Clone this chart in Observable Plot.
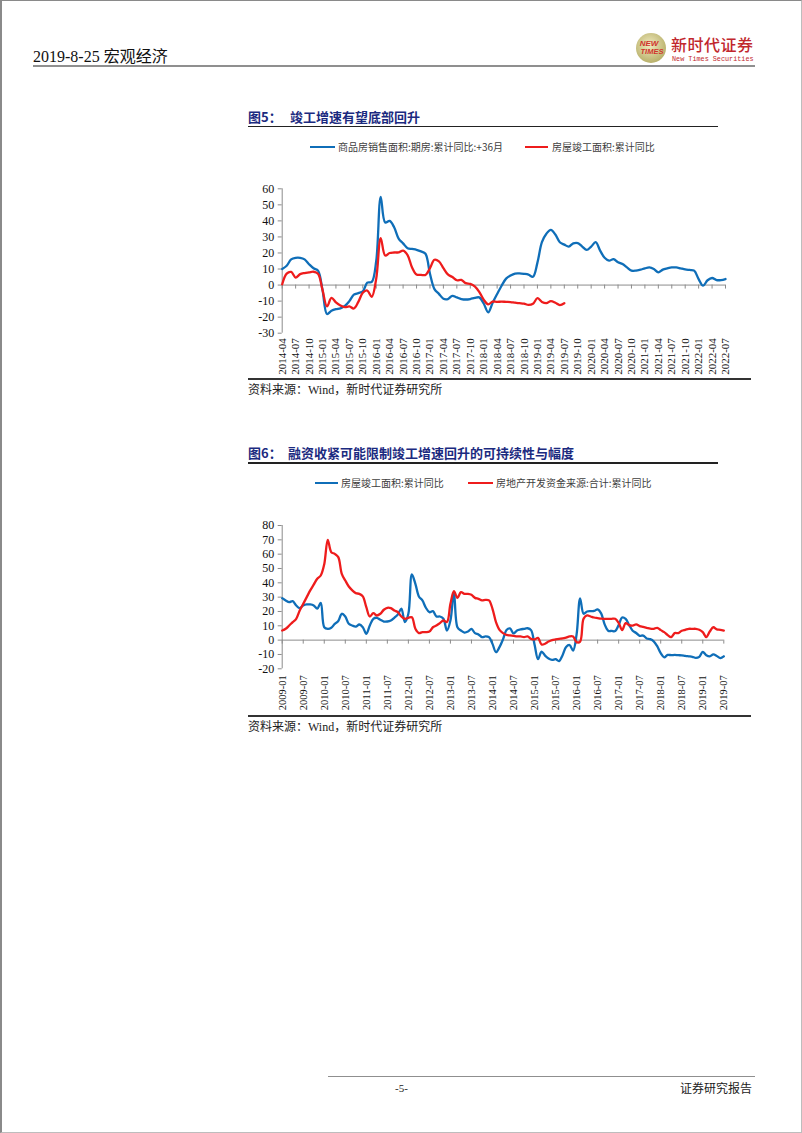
<!DOCTYPE html>
<html><head><meta charset="utf-8">
<script src="https://cdn.jsdelivr.net/npm/d3@7"></script>
<script src="https://cdn.jsdelivr.net/npm/@observablehq/plot@0.6"></script>
<style>
html,body{margin:0;padding:0;background:#fff;}
#page{position:relative;width:802px;height:1133px;overflow:hidden;background:#fff;font-family:'Liberation Serif','Noto Sans CJK SC',serif;color:#000;}
.abs{position:absolute;white-space:nowrap;line-height:1;}
</style></head><body><div id="page"></div>
<script>
// ---------- DATA ----------
// 商品房销售面积:期房:累计同比:+36月 (2014-04 … 2022-07)
const salesStart = [2014, 4];
const salesPlus36 = [
  10, 12, 16, 17, 17, 16, 13, 10.5, 9,
  -3, -18, -16, -15, -14.5, -13, -10, -6, -5, -4, 1.5, 2,
  15, 55, 39, 40, 36, 29, 26, 23, 22.5, 22, 21, 19.5,
  7, -2.5, -5.5, -8.5, -8.7, -6.7, -7.7, -8.7, -9, -8.7, -8, -7.7,
  -11.5, -17, -11, -5.6, -0.4, 4, 6, 7.2, 7.3, 7, 6.5, 5.2,
  14, 26.7, 32, 34.4, 31.5, 26.7, 25.2, 24, 26, 26.2, 24, 21.9,
  24, 26.7, 21.5, 17, 15.2, 16.2, 14.2, 13.1, 11, 9, 9, 9.6,
  10.4, 11, 10, 7.9, 9.6, 10.4, 11, 11, 10.4, 9.8, 9.4, 9,
  3.75, -0.4, 3, 4.4, 3.1, 3.1, 3.75
];
// 房屋竣工面积:累计同比 (2009-01 … 2019-07)
const seriesStart = [2009, 1];
const completion = [
  29.3, 27.7, 26.5, 27.2, 24.2, 22.3, 24.2, 24.9, 24.9, 24.2, 22, 26,
  9, 7.9, 8.6, 11.4, 13.3, 18.4, 16.5, 11.4, 10.2, 9.5, 10.9, 9,
  4.4, 10.2, 14.9, 15.6, 14.2, 13, 13, 13.7, 15.6, 17.9, 22, 12.6,
  18.4, 45.8, 39.3, 30.5, 27.7, 22.6, 19.5, 20.2, 16.5, 16.5, 14.9, 6.7,
  13.7, 33.5, 9, 6.7, 5.3, 6, 7.9, 4.9, 4, 2.1, 2.6, 2.1,
  -2.6, -8.4, -4.9, 0.5, 7.1, 8.2, 4.7, 6.8, 7.5, 7.9, 8.3, 7,
  -3, -13.3, -8, -10.8, -12.8, -13.8, -13.3, -14.6, -10.5, -4.8, -3.4, -7.3,
  4, 29.2, 18.4, 20, 20.3, 20.4, 21.5, 18.7, 11, 6.6, 6.4, 6.3,
  10.5, 15.8, 14.8, 10.5, 6.6, 5, 3, 3.2, 1.2, 0.7, -0.8, -4.2,
  -9.1, -12, -10.3, -10.5, -10.3, -10.5, -10.6, -11, -11.3, -11.6, -12.4, -11.7,
  -8.2, -10.5, -11.3, -10, -11, -12.5, -11.3
];
// 房地产开发资金来源:合计:累计同比 (2009-01 … 2019-07)
const funding = [
  6.7, 7.9, 10.2, 12.6, 14.9, 20.7, 25.3, 30, 34.7, 38.8, 42.8, 45.1,
  53, 70, 61.4, 60.2, 57.9, 46.3, 41.6, 37.4, 34.7, 32.8, 32.3, 30.5,
  23, 16.5, 18.8, 17.2, 18.4, 21.2, 22.6, 22.3, 20.7, 19.5, 16.5, 14.9,
  15.6, 16, 7.9, 4.9, 5.6, 5.6, 6, 9, 10.2, 11.9, 13.7, 12.6,
  25.3, 34.2, 29.5, 33.5, 32.3, 32.3, 31.6, 29.5, 28.8, 27.7, 28.1, 27.7,
  21.9, 12.6, 7.2, 4.9, 3.7, 3.3, 3, 2.6, 2.6, 2.1, 2.6, 0.9,
  0.5, 1.6, -3, -2.5, -1, 0, 0.5, 0.9, 1.2, 1.8, 2.6, 2.5,
  -1.4, -1, 15, 17.2, 16.5, 15.8, 15.4, 15, 14.9, 14.9, 14.9, 14.9,
  12, 7, 11.9, 10.5, 10.2, 11, 9.8, 9.2, 8.6, 8, 7.9, 8.6,
  7, 5.6, 3.5, 2.1, 4.9, 4.9, 6.5, 7.2, 7.9, 7.9, 7.9, 7.2,
  5.6, 2.1, 6, 9, 7.5, 7.2, 6.7
];
const chart1Ticks = ["2014-04","2014-07","2014-10","2015-01","2015-04","2015-07","2015-10","2016-01","2016-04","2016-07","2016-10","2017-01","2017-04","2017-07","2017-10","2018-01","2018-04","2018-07","2018-10","2019-01","2019-04","2019-07","2019-10","2020-01","2020-04","2020-07","2020-10","2021-01","2021-04","2021-07","2021-10","2022-01","2022-04","2022-07"];
const chart2Ticks = ["2009-01","2009-07","2010-01","2010-07","2011-01","2011-07","2012-01","2012-07","2013-01","2013-07","2014-01","2014-07","2015-01","2015-07","2016-01","2016-07","2017-01","2017-07","2018-01","2018-07","2019-01","2019-07"];
const chart1YTicks = [-30, -20, -10, 0, 10, 20, 30, 40, 50, 60];
const chart2YTicks = [-20, -10, 0, 10, 20, 30, 40, 50, 60, 70, 80];
const legend1 = ["商品房销售面积:期房:累计同比:+36月", "房屋竣工面积:累计同比"];
const legend2 = ["房屋竣工面积:累计同比", "房地产开发资金来源:合计:累计同比"];
const BLUE = "#0F6EB8", RED = "#EE1C1C", AXIS = "#8C8C8C";

// ---------- helpers ----------
function monthLabels(start, n) {
  const out = [];
  let [y, m] = start;
  for (let k = 0; k < n; k++) {
    out.push(y + "-" + String(m).padStart(2, "0"));
    m++; if (m > 12) { m = 1; y++; }
  }
  return out;
}
const page = document.getElementById("page");
function el(html, style) {
  const d = document.createElement("div");
  d.className = "abs";
  d.innerHTML = html;
  Object.assign(d.style, style);
  page.appendChild(d);
  return d;
}
function text(t, x, cy, size, extra = {}) {
  return el(t, Object.assign({left: x + "px", top: (cy - size / 2) + "px", fontSize: size + "px"}, extra));
}
function hline(x1, x2, y, w, color) {
  return el("", {left: x1 + "px", top: (y - w / 2) + "px", width: (x2 - x1) + "px", height: w + "px", background: color});
}

// page frame
el("", {left: "0px", top: "0px", width: "799px", height: "1131px", borderLeft: "2px solid #8a8a8a", borderTop: "1px solid #8a8a8a", borderRight: "1px solid #bdbdbd", borderBottom: "1px solid #bdbdbd"});

// ---------- header ----------
text("2019-8-25 宏观经济", 33, 57, 16, {color: "#111"});
hline(33, 755, 66, 1.2, "#8f8f8f");
el(`<svg width="34" height="34" viewBox="0 0 34 34">
  <defs><radialGradient id="lg" cx="45%" cy="40%" r="60%"><stop offset="0" stop-color="#F1EBC0"/><stop offset="1" stop-color="#B8B06A"/></radialGradient></defs>
  <circle cx="17" cy="17" r="15" fill="url(#lg)"/>
  <text x="15" y="15" font-size="8" font-weight="bold" fill="#D0342C" text-anchor="middle" font-family="Liberation Sans" font-style="italic">NEW</text>
  <text x="18" y="23" font-size="7.5" font-weight="bold" fill="#D0342C" text-anchor="middle" font-family="Liberation Sans" font-style="italic">TIMES</text>
</svg>`, {left: "634px", top: "31px"});
text("新时代证券", 671, 44, 16, {color: "#C1272D", fontFamily: "'Noto Sans CJK SC'", fontWeight: "500", letterSpacing: "0.5px"});
text("New Times Securities", 672, 59, 6.8, {color: "#C1272D", fontFamily: "'Liberation Mono'"});

// ---------- figure 5 ----------
const TITLE = "#1B2A80";
text("图5：", 248, 116, 13, {color: TITLE, fontWeight: "bold", fontFamily: "'Noto Sans CJK SC'"});
text("竣工增速有望底部回升", 290, 116, 13, {color: TITLE, fontWeight: "bold", fontFamily: "'Noto Sans CJK SC'"});
hline(248, 718, 126.5, 1.5, "#222");
hline(310, 335, 147, 2.4, BLUE);
text(legend1[0], 338, 147, 10, {color: "#404040", fontFamily: "'Noto Sans CJK SC'"});
hline(525, 548, 147, 2.4, RED);
text(legend1[1], 552, 147, 10, {color: "#404040", fontFamily: "'Noto Sans CJK SC'"});
hline(248, 751, 379, 1.5, "#333");
text("资料来源：Wind，新时代证券研究所", 248, 390, 12, {color: "#222", fontFamily: "'Liberation Serif','Noto Sans CJK SC'"});

// ---------- figure 6 ----------
text("图6：", 248, 452, 13, {color: TITLE, fontWeight: "bold", fontFamily: "'Noto Sans CJK SC'"});
text("融资收紧可能限制竣工增速回升的可持续性与幅度", 288, 452, 13, {color: TITLE, fontWeight: "bold", fontFamily: "'Noto Sans CJK SC'"});
hline(248, 718, 463, 1.5, "#222");
hline(315, 338, 483, 2.4, BLUE);
text(legend2[0], 341, 483, 10, {color: "#404040", fontFamily: "'Noto Sans CJK SC'"});
hline(468, 493, 483, 2.4, RED);
text(legend2[1], 496, 483, 10, {color: "#404040", fontFamily: "'Noto Sans CJK SC'"});
hline(248, 751, 716, 1.5, "#333");
text("资料来源：Wind，新时代证券研究所", 248, 727, 12, {color: "#222", fontFamily: "'Liberation Serif','Noto Sans CJK SC'"});

// ---------- footer ----------
hline(328, 755, 1076, 1, "#8f8f8f");
text("-5-", 395, 1088, 11, {color: "#222"});
el("证券研究报告", {right: "50px", top: "1082px", fontSize: "12px", color: "#222", fontFamily: "'Noto Sans CJK SC'"});

// ---------- charts ----------
const fmt = d => String(d);
function lineChart({labels, series, ticks, yTicks, yDomain, top, height, mTop, mBottom, mRight, xFont, xPad, dataTickLen}) {
  const n = labels.length;
  const tickIdx = ticks.map(t => labels.indexOf(t));
  const marks = [
    Plot.ruleX([0], {y1: yDomain[0], y2: yDomain[1], stroke: AXIS, strokeWidth: 1}),
    Plot.axisY({ticks: yTicks, tickSize: 4, tickPadding: 4, stroke: AXIS, fill: "#111", tickFormat: fmt, label: null, fontSize: 12}),
    Plot.ruleY([0], {x1: 0, x2: n - 1, stroke: AXIS, strokeWidth: 1}),
    Plot.ruleX(tickIdx, {x: d => d, y1: 0, y2: 0, insetBottom: -dataTickLen, stroke: AXIS, strokeWidth: 1}),
    Plot.axisX({ticks: tickIdx, tickFormat: i => labels[i], tickRotate: -90, tickSize: 0, tickPadding: xPad, label: null, fontSize: xFont, fill: "#111"})
  ];
  for (const s of series) {
    const rows = s.values.map((v, k) => ({i: k + s.offset, v}));
    marks.push(Plot.line(rows, {x: "i", y: "v", stroke: s.color, strokeWidth: 2.3, curve: "catmull-rom", strokeLinejoin: "round"}));
  }
  const svg = Plot.plot({
    width: 802, height,
    marginLeft: 281.7, marginRight: mRight, marginTop: mTop, marginBottom: mBottom,
    x: {type: "linear", domain: [0, n - 1]},
    y: {domain: yDomain},
    style: {fontFamily: "'Liberation Serif', serif", fontSize: "11px", background: "transparent", overflow: "visible", color: "#111"},
    marks
  });
  const holder = el("", {left: "0px", top: top + "px"});
  holder.appendChild(svg);
}

const labels1 = monthLabels(salesStart, salesPlus36.length);
const labels2 = monthLabels(seriesStart, completion.length);
const offsetIn1 = labels2.indexOf(labels1[0]);
lineChart({
  labels: labels1,
  series: [
    {values: salesPlus36, offset: 0, color: BLUE},
    {values: completion.slice(offsetIn1), offset: 0, color: RED}
  ],
  ticks: chart1Ticks, yTicks: chart1YTicks, yDomain: [-30, 60],
  top: 180, height: 200, mTop: 8.3, mBottom: 47.3, mRight: 77, xFont: 11, xPad: 5, dataTickLen: 4
});
lineChart({
  labels: labels2,
  series: [
    {values: completion, offset: 0, color: BLUE},
    {values: funding, offset: 0, color: RED}
  ],
  ticks: chart2Ticks, yTicks: chart2YTicks, yDomain: [-20, 80],
  top: 515, height: 200, mTop: 10, mBottom: 46.7, mRight: 78.7, xFont: 10.5, xPad: 6.5, dataTickLen: 4
});
</script></body></html>
